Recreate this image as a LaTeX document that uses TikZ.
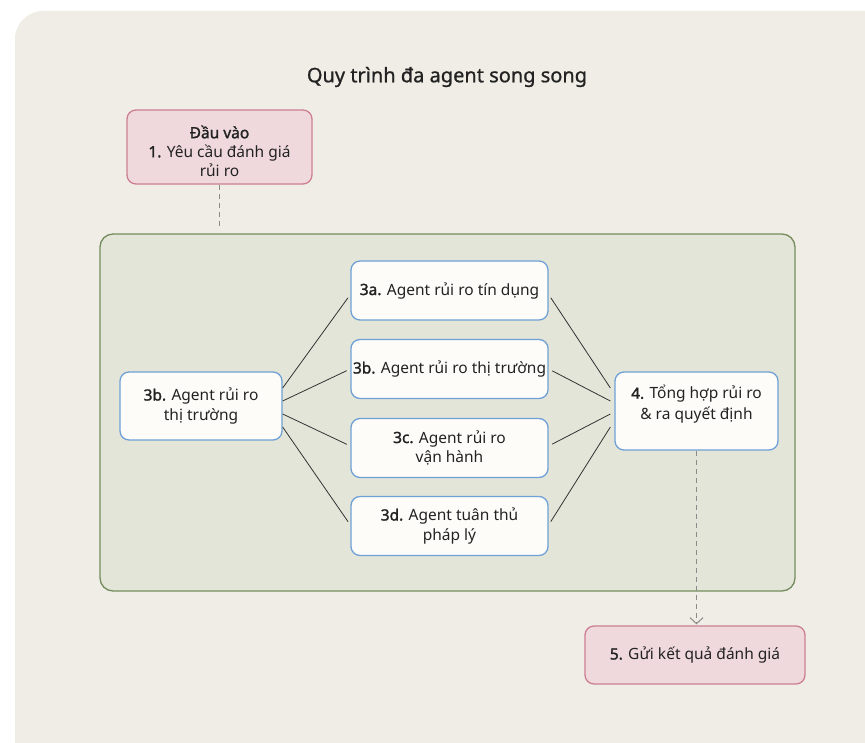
\documentclass[tikz,border=0pt]{standalone}
\usepackage{fontspec}
\setmainfont{Noto Sans}[BoldFont={Noto Sans}, BoldFeatures={FakeBold=1.6}]
\newfontfamily\titlefont{Noto Sans}[FakeBold=0.9]
\usetikzlibrary{calc,arrows.meta}

\definecolor{panelbg}{HTML}{F0EDE6}
\definecolor{grpfill}{HTML}{E3E5D8}
\definecolor{grpline}{HTML}{748C5E}
\definecolor{pinkfill}{HTML}{EFD9DC}
\definecolor{pinkline}{HTML}{CC7F92}
\definecolor{bluefill}{HTML}{FDFCF9}
\definecolor{blueline}{HTML}{6FA0D6}
\definecolor{inktext}{HTML}{222222}
\definecolor{dashgray}{HTML}{8A8A8A}

\tikzset{
  base/.style={rectangle, rounded corners=9pt, line width=1.3pt, align=center,
    text=inktext, font=\fontsize{15.5}{20}\selectfont, inner sep=2pt},
  pinkbox/.style={base, draw=pinkline, fill=pinkfill},
  agentbox/.style={base, draw=blueline, fill=bluefill},
  txt/.style={align=center, text=inktext, font=\fontsize{15.5}{20}\selectfont, inner sep=0pt},
  link/.style={draw=black!80, line width=0.8pt},
  flow/.style={draw=dashgray, line width=1pt, dash pattern=on 5pt off 4pt},
}

\begin{document}
\begin{tikzpicture}[x=1pt, y=-1pt]
\useasboundingbox (0,0) rectangle (865,743);

% outer panel
\begin{scope}
  \clip (0,0) rectangle (865,743);
  \fill[panelbg, rounded corners=28pt] (15,11) rectangle (895,775);
\end{scope}

% title
\node[txt, font=\titlefont\fontsize{20}{24}\selectfont] (title) at (447,77) {Quy trình đa agent song song};

% input
\node[pinkbox, minimum width=185pt, minimum height=74pt] (inp) at (219.5,147) {};
\node[txt, font=\fontsize{15.5}{19}\selectfont] (inptxt) at (219.5,151)
  {\textbf{Đầu vào}\\\textbf{1.} Yêu cầu đánh giá\\rủi ro};

% parallel group container
\node[rectangle, rounded corners=13pt, draw=grpline, fill=grpfill, line width=1.3pt,
      minimum width=695pt, minimum height=357pt] (grp) at (447.5,412.5) {};

% source agent
\node[agentbox, minimum width=162pt, minimum height=68pt] (src) at (201,406)
  {\textbf{3b.} Agent rủi ro\\thị trường};

% parallel agents
\node[agentbox, minimum width=197pt, minimum height=59pt] (a) at (449.5,290.5)
  {\textbf{3a.} Agent rủi ro tín dụng};
\node[agentbox, minimum width=197pt, minimum height=59pt] (b) at (449.5,369)
  {\textbf{3b.} Agent rủi ro thị trường};
\node[agentbox, minimum width=197pt, minimum height=59pt] (c) at (449.5,448)
  {\textbf{3c.} Agent rủi ro\\vận hành};
\node[agentbox, minimum width=197pt, minimum height=59pt] (d) at (449.5,526)
  {\textbf{3d.} Agent tuân thủ\\pháp lý};

% aggregation (text sits in the upper part of the box)
\node[agentbox, minimum width=163pt, minimum height=78pt, text depth=17pt,
      font=\fontsize{15.5}{21}\selectfont] (agg) at (696.5,411)
  {\textbf{4.} Tổng hợp rủi ro\\\& ra quyết định};

% output
\node[pinkbox, minimum width=220pt, minimum height=58pt] (out) at (695,655)
  {\textbf{5.} Gửi kết quả đánh giá};

% fan-out / fan-in attachment points
\coordinate (s1) at ($(src.east)+(0,-18)$);
\coordinate (s2) at ($(src.east)+(0,-5)$);
\coordinate (s3) at ($(src.east)+(0,8)$);
\coordinate (s4) at ($(src.east)+(0,21)$);
\coordinate (g1) at ($(agg.west)+(-4,-23)$);
\coordinate (g2) at ($(agg.west)+(-4,-10)$);
\coordinate (g3) at ($(agg.west)+(-4,3)$);
\coordinate (g4) at ($(agg.west)+(-4,16)$);

\draw[link, shorten >=4pt] (s1) -- ($(a.west)+(0,4)$);
\draw[link, shorten >=4pt] (s2) -- (b.west);
\draw[link, shorten >=4pt] (s3) -- ($(c.west)+(0,-2)$);
\draw[link, shorten >=4pt] (s4) -- ($(d.west)+(0,-1)$);
\draw[link, shorten <=4pt] ($(a.east)+(0,4)$) -- (g1);
\draw[link, shorten <=4pt] (b.east) -- (g2);
\draw[link, shorten <=4pt] ($(c.east)+(0,-2)$) -- (g3);
\draw[link, shorten <=4pt] ($(d.east)+(0,-1)$) -- (g4);

% sequence connectors
\draw[flow, shorten >=5pt] (inp.south) -- (inp.south |- grp.north);
\draw[flow, -{Straight Barb[length=6pt, width=13pt, line width=1pt]}, shorten >=1pt]
  (agg.south) -- (agg.south |- out.north);
\end{tikzpicture}
\end{document}
